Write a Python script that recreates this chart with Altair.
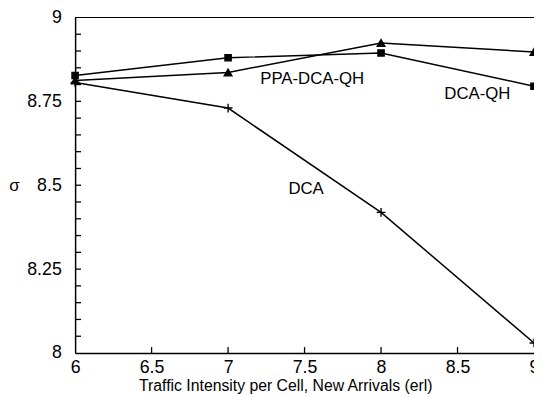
import altair as alt
import pandas as pd

# ---- data ----
x_vals = [6, 7, 8, 9]
dca_qh = [8.827, 8.880, 8.894, 8.795]        # squares
ppa_dca_qh = [8.812, 8.836, 8.924, 8.897]    # triangles
dca = [8.806, 8.730, 8.419, 8.030]           # plus markers
series_names = ["DCA-QH", "PPA-DCA-QH", "DCA"]

label_text = ["PPA-DCA-QH", "DCA-QH", "DCA"]
label_x = [7.55, 8.63, 7.51]
label_y = [8.815, 8.771, 8.49]

x_labels = [6, 6.5, 7, 7.5, 8, 8.5, 9]
x_inner_ticks = [6.5, 7, 7.5, 8, 8.5]
y_labels = [8, 8.25, 8.5, 8.75, 9]
y_inner_ticks = [8.05, 8.1, 8.15, 8.2, 8.25, 8.3, 8.35, 8.4, 8.45, 8.5,
                 8.55, 8.6, 8.65, 8.7, 8.75, 8.8, 8.85, 8.9, 8.95]

rows = []
for name, vals in zip(series_names, [dca_qh, ppa_dca_qh, dca]):
    for x, v in zip(x_vals, vals):
        rows.append({"x": x, "v": v, "series": name})
df = pd.DataFrame(rows)
labels_df = pd.DataFrame({"text": label_text, "x": label_x, "v": label_y})

FONT = "Liberation Sans"
W, H = 465, 340
xs = alt.Scale(domain=[6, 9], nice=False, zero=False)
ys = alt.Scale(domain=[8, 9], nice=False, zero=False)

plus_path = "M-1,0L1,0M0,-1L0,1"

lines = alt.Chart(df).mark_line(color="black", strokeWidth=1.5).encode(
    x=alt.X("x:Q", scale=xs, axis=alt.Axis(
        orient="bottom", values=x_labels, format=".1~f", ticks=False, grid=False,
        domainColor="black", domainWidth=1.5,
        labelFont=FONT, labelFontSize=18, labelColor="black",
        labelBaseline="alphabetic", labelPadding=20, labelFlush=False,
        labelOverlap=False,
        title="Traffic Intensity per Cell, New Arrivals (erl)",
        titleFont=FONT, titleFontSize=16, titleFontWeight="normal",
        titleColor="black", titleX=213, titleY=38, titleAlign="center",
        titleBaseline="alphabetic")),
    y=alt.Y("v:Q", scale=ys, axis=alt.Axis(
        orient="left", values=y_labels, format=".2~f", ticks=False, grid=False,
        domainColor="black", domainWidth=1.5,
        labelFont=FONT, labelFontSize=18, labelColor="black",
        labelPadding=14, labelOverlap=False, labelFlush=False,
        title="σ", titleFont=FONT, titleFontSize=17, titleFontWeight="normal",
        titleColor="black", titleAngle=0, titleX=-62, titleY=170,
        titleAlign="center", titleBaseline="middle")),
    detail="series:N",
)

points = alt.Chart(df).mark_point(
    filled=True, color="black", stroke="black", strokeWidth=1.4, opacity=1
).encode(
    x=alt.X("x:Q", scale=xs, axis=None),
    y=alt.Y("v:Q", scale=ys, axis=None),
    shape=alt.Shape("series:N", scale=alt.Scale(
        domain=series_names, range=["square", "triangle-up", plus_path]),
        legend=None),
    size=alt.Size("series:N", scale=alt.Scale(
        domain=series_names, range=[40, 80, 80]), legend=None),
)

# inward-pointing ticks on the left and bottom axes
ytick = alt.Chart(pd.DataFrame({"v": y_inner_ticks})).mark_tick(
    orient="horizontal", size=6, thickness=1.3, color="black", xOffset=3, opacity=1
).encode(
    x=alt.XDatum(datum=6, scale=xs, axis=None),
    y=alt.Y("v:Q", scale=ys, axis=None),
)
xtick = alt.Chart(pd.DataFrame({"x": x_inner_ticks})).mark_tick(
    orient="vertical", size=6, thickness=1.3, color="black", yOffset=-3, opacity=1
).encode(
    x=alt.X("x:Q", scale=xs, axis=None),
    y=alt.YDatum(datum=8, scale=ys, axis=None),
)

top_rule = alt.Chart(df).mark_rule(color="black", strokeWidth=1.2).encode(
    y=alt.YDatum(datum=9, scale=ys, axis=None)
)

texts = alt.Chart(labels_df).mark_text(
    font=FONT, fontSize=17, color="black", align="center", baseline="middle"
).encode(
    x=alt.X("x:Q", scale=xs, axis=None),
    y=alt.Y("v:Q", scale=ys, axis=None),
    text="text:N",
)

chart = alt.layer(lines, ytick, xtick, top_rule, points, texts).resolve_axis(
    x="independent", y="independent"
).properties(
    width=W, height=H,
    autosize=alt.AutoSizeParams(type="none"),
    padding={"left": 68, "top": 7, "right": 0, "bottom": 43},
    background="white",
).configure_view(stroke=None)

chart.save("out.html", embed_options={"renderer": "svg", "actions": False})
